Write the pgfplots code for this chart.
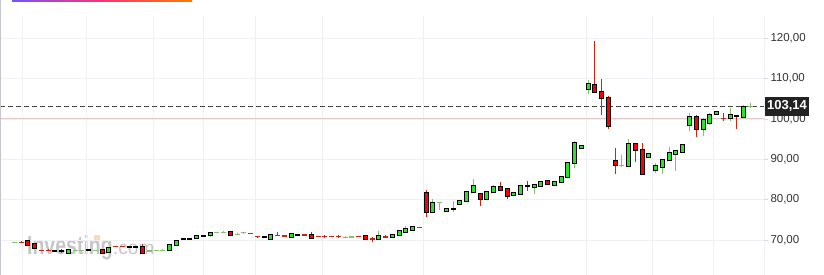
\documentclass[border=0pt]{standalone}
\usepackage{fontspec}
\setmainfont{Liberation Sans}
\usepackage{pgfplots}
\pgfplotsset{compat=1.18}
\usepackage{pgfplotstable}
\definecolor{cg}{RGB}{46,224,46}
\definecolor{cr}{RGB}{250,0,0}
\definecolor{wg}{RGB}{135,192,110}
\definecolor{wr}{RGB}{192,42,20}
\definecolor{gridc}{RGB}{240,240,244}
\definecolor{axc}{RGB}{214,217,228}
\definecolor{lblc}{RGB}{51,51,51}
\definecolor{pinkl}{RGB}{228,200,200}
\definecolor{dashc}{RGB}{70,70,70}
\definecolor{boxc}{RGB}{34,34,34}
\definecolor{wm}{RGB}{198,198,198}
\definecolor{wmo}{RGB}{246,218,190}

% green candles: index open high low close
\pgfplotstableread{
i o h l c
8 66.76 67.43 66.76 67.43
14 66.94 67.93 66.94 67.93
23 67.43 68.67 67.43 68.67
24 68.75 69.67 68.75 69.67
27 70.41 70.91 70.41 70.91
29 71.15 71.65 70.66 71.65
38 70.31 71.15 70.31 71.15
41 70.81 71.40 70.81 71.40
54 70.16 72.22 70.16 70.98
56 70.66 71.23 70.66 71.23
57 71.15 72.14 71.15 72.14
58 72.05 73.38 72.05 72.71
59 72.54 73.14 72.54 73.14
62 76.86 80.08 76.86 79.09
64 77.10 77.60 77.10 77.60
66 78.84 79.66 78.84 79.66
67 79.58 81.82 79.58 81.82
68 81.82 85.11 81.82 83.30
70 80.23 81.82 80.23 81.82
71 81.82 83.62 81.82 83.06
74 81.07 81.57 81.07 81.57
75 81.47 83.30 81.47 83.30
77 83.05 83.62 81.39 83.62
78 83.45 84.29 83.45 84.29
80 83.70 84.29 83.70 84.29
81 84.29 85.61 84.29 85.61
82 85.53 89.01 85.29 89.01
83 89.01 94.54 87.77 93.96
84 92.73 93.30 92.73 93.30
85 107.50 109.66 106.11 108.59
91 88.41 95.11 88.41 93.72
94 90.64 91.24 90.64 91.24
95 87.27 89.00 86.67 88.33
96 88.16 89.82 86.28 89.82
97 89.75 93.05 89.75 91.56
98 91.39 91.98 87.17 91.98
99 91.88 93.47 91.88 93.47
100 98.43 101.40 97.02 100.41
102 97.44 100.16 95.85 99.67
103 98.92 101.55 98.58 101.06
104 101.16 101.65 101.16 101.65
106 100.16 102.65 99.49 100.91
108 100.56 103.46 100.56 102.89
}\G

% red candles
\pgfplotstableread{
i o h l c
2 69.67 69.67 68.67 68.67
3 68.92 68.92 67.93 67.93
13 67.51 67.51 66.84 66.84
19 68.33 69.00 66.84 66.84
32 71.90 71.90 71.23 71.23
44 71.15 71.90 70.56 70.56
52 70.90 70.90 70.31 70.31
61 81.57 82.39 75.76 76.86
69 81.32 81.32 78.49 80.23
72 83.06 84.37 82.46 82.46
73 82.56 82.56 80.23 80.82
79 84.54 84.54 83.80 83.80
86 108.35 119.33 106.36 106.61
87 106.68 109.91 100.98 105.12
88 105.12 105.77 97.59 98.18
89 89.50 92.87 86.35 88.51
92 93.72 93.72 89.40 92.23
93 92.30 94.04 86.28 86.28
101 100.41 100.98 95.45 97.44
}\R

% green, open = close
\pgfplotstableread{
i v h l
0 69.42 69.42 69.42
9 67.33 67.33 67.33
10 67.43 67.43 67.43
12 67.43 67.43 67.43
20 67.26 67.26 67.26
21 67.34 67.34 67.34
22 67.43 67.70 67.20
30 71.90 71.90 71.90
31 71.90 72.15 71.65
33 71.40 71.65 71.15
34 71.80 72.05 71.55
49 70.66 70.90 70.66
50 70.73 70.73 70.73
63 79.24 79.48 77.43
90 88.41 91.06 88.16
109 103.14 103.88 102.64
}\GF

% red, open = close
\pgfplotstableread{
i v h l
1 69.32 69.67 69.32
4 67.43 67.43 67.43
5 67.43 67.68 67.43
15 68.43 68.43 68.43
16 68.43 68.43 68.43
35 71.65 71.65 71.65
36 70.81 71.05 70.60
39 71.15 71.90 71.15
40 70.98 70.98 70.98
43 71.23 71.23 71.23
45 70.90 70.90 70.90
46 70.90 71.20 70.60
47 70.90 70.90 70.90
48 70.90 71.20 70.60
51 70.90 70.90 70.90
53 70.23 70.73 69.42
55 70.73 71.23 70.73
60 73.14 73.14 73.14
105 100.06 101.40 99.49
}\RF

% tiny bodies (black dash), green wick
\pgfplotstableread{
i v h l
6 67.26 67.26 67.26
11 67.58 67.58 67.58
17 68.18 68.18 68.18
18 68.25 68.25 68.25
25 70.24 70.24 70.24
26 70.24 70.24 70.24
28 71.05 71.05 71.05
37 70.70 70.70 70.70
42 71.30 71.30 71.30
65 77.75 79.66 77.00
}\KG

% tiny bodies (black dash), red wick
\pgfplotstableread{
i v h l
7 67.26 67.68 66.76
76 83.30 84.54 82.21
107 100.81 100.81 97.59
}\KR

\newcommand{\wicks}[2]{%
\addplot[forget plot, draw=none, mark=none, error bars/.cd, y dir=plus, y explicit, error mark=none,
  error bar style={line width=1pt, draw=#2}]
  table[x=i, y=l, y error expr=\thisrow{h}-\thisrow{l}] {#1};}
\newcommand{\bodies}[2]{%
\addplot[forget plot, draw=none, mark=none, error bars/.cd, y dir=plus, y explicit, error mark=none,
  error bar style={line width=5pt, draw=black}]
  table[x=i, y expr={min(\thisrow{o},\thisrow{c})-0.25}, y error expr={abs(\thisrow{c}-\thisrow{o})+0.5}] {#1};
\addplot[forget plot, draw=none, mark=none, error bars/.cd, y dir=plus, y explicit, error mark=none,
  error bar style={line width=3pt, draw=#2}]
  table[x=i, y expr={min(\thisrow{o},\thisrow{c})}, y error expr={abs(\thisrow{c}-\thisrow{o})}] {#1};}
\newcommand{\flats}[3]{%
\addplot[forget plot, only marks, mark=-, mark size=2.5pt, mark options={line width=#3, draw=#2}]
  table[x=i, y=v] {#1};}

\begin{document}
\begin{tikzpicture}
% watermark
\fill[wmo] (94pt,35pt) rectangle (100pt,40pt);
\node[anchor=base west, inner sep=0pt, text=wm, font=\bfseries\fontsize{26}{28}\selectfont, xscale=0.75, transform shape] at (27pt,20pt) {Investing};
\node[anchor=base west, inner sep=0pt, text=wm, font=\fontsize{19}{21}\selectfont] at (113pt,20pt) {.com};
\begin{axis}[
  at={(0pt,0pt)}, anchor=south west,
  scale only axis, width=764.3pt, height=259pt,
  xmin=-2.118, xmax=111.08, ymin=61.31, ymax=125.53,
  axis line style={draw=none},
  xtick={1.14,10.62,20.54,27.95,35.65,45.57,60.53,84.67,94.45,103.48},
  xticklabels={},
  x tick style={draw=none},
  xmajorgrids, ymajorgrids,
  grid style={draw=gridc, line width=0.8pt},
  ytick={70,80,90,100,110,120},
  yticklabels={{70,00},{80,00},{90,00},{100,00},{110,00},{120,00}},
  ytick pos=right, yticklabel pos=right,
  tick align=outside, major tick length=4pt,
  y tick style={draw=axc, line width=0.8pt},
  yticklabel style={font=\fontsize{11.5}{13}\selectfont, text=lblc, anchor=west, inner sep=0pt, xshift=2pt},
]
\draw[pinkl, line width=0.9pt] (axis cs:-2.118,100.2) -- (axis cs:111.08,100.2);
\draw[dashc, line width=0.9pt, dash pattern=on 5pt off 3pt] (axis cs:-2.118,103.14) -- (axis cs:111.08,103.14);
\draw[axc, line width=0.9pt] (rel axis cs:1,0) -- (rel axis cs:1,1);
\wicks{\G}{wg}
\wicks{\GF}{wg}
\wicks{\KG}{wg}
\wicks{\R}{wr}
\wicks{\RF}{wr}
\wicks{\KR}{wr}
\bodies{\G}{cg}
\bodies{\R}{cr}
\flats{\GF}{wg}{1.3pt}
\flats{\RF}{wr}{1.3pt}
\flats{\KG}{black}{2.2pt}
\flats{\KR}{black}{2.2pt}
\coordinate (pl) at (axis cs:111.08,103.14);
\end{axis}
\node[anchor=west, fill=boxc, text=white, font=\bfseries\fontsize{13}{14}\selectfont, minimum height=19pt, inner xsep=2.6pt, inner ysep=0pt] at (pl) {103,14};
\draw[axc!80!gray, line width=1pt] (0.5pt,0pt) -- (0.5pt,275pt);
\shade[left color={rgb,255:red,120;green,80;blue,255}, right color={rgb,255:red,255;green,120;blue,0}, middle color={rgb,255:red,255;green,50;blue,110}] (12pt,273pt) rectangle (192pt,275pt);
\pgfresetboundingbox
\useasboundingbox (0pt,0pt) rectangle (824pt,275pt);
\end{tikzpicture}
\end{document}
